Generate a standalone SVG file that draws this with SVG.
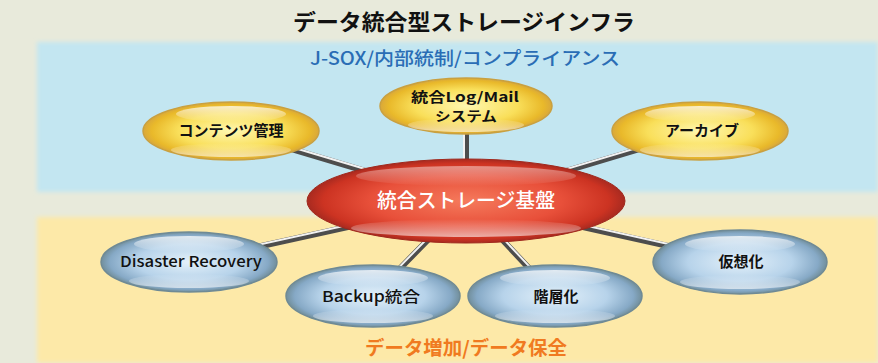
<svg xmlns="http://www.w3.org/2000/svg" width="878" height="363" viewBox="0 0 878 363">
<defs>
  <radialGradient id="gY" cx="50%" cy="50%" r="50%">
    <stop offset="0" stop-color="#fff7b0"/>
    <stop offset="0.6" stop-color="#f9df5a"/>
    <stop offset="0.9" stop-color="#e9b92a"/>
    <stop offset="1" stop-color="#d9a83a"/>
  </radialGradient>
  <radialGradient id="gB" cx="50%" cy="50%" r="50%">
    <stop offset="0" stop-color="#e4f1fa"/>
    <stop offset="0.6" stop-color="#b7d3ea"/>
    <stop offset="0.9" stop-color="#86a9c6"/>
    <stop offset="1" stop-color="#728f9c"/>
  </radialGradient>
  <radialGradient id="gR" cx="50%" cy="50%" r="50%">
    <stop offset="0" stop-color="#f57a5c"/>
    <stop offset="0.6" stop-color="#e8503a"/>
    <stop offset="0.9" stop-color="#cc3322"/>
    <stop offset="1" stop-color="#a82a20"/>
  </radialGradient>
  <linearGradient id="hl" x1="0" y1="0" x2="0" y2="1">
    <stop offset="0" stop-color="#ffffff" stop-opacity="0.75"/>
    <stop offset="1" stop-color="#ffffff" stop-opacity="0"/>
  </linearGradient>
  <linearGradient id="hlb" x1="0" y1="1" x2="0" y2="0">
    <stop offset="0" stop-color="#ffffff" stop-opacity="0.6"/>
    <stop offset="1" stop-color="#ffffff" stop-opacity="0"/>
  </linearGradient>
  <filter id="soft" x="-5%" y="-10%" width="110%" height="120%"><feGaussianBlur stdDeviation="2"/></filter>
</defs>
<style>
  .t{font-family:"Noto Sans CJK JP","Noto Sans",sans-serif;font-weight:bold;text-anchor:middle}
  .n{font-size:15px;fill:#111}
  .r{font-weight:500}
  .ty{stroke:#c9a040;stroke-width:1.5}
  .tb{stroke:#6f8a95;stroke-width:1.5}
  .tube1{stroke:#4d4d4d;stroke-width:6;fill:none}
  .tube2{stroke:#f2f2f2;stroke-width:2;fill:none}
</style>
<rect width="878" height="363" fill="#e8eadb"/>
<rect x="37" y="42" width="841" height="150" fill="#c3e6f1" filter="url(#soft)"/>
<rect x="37" y="217" width="841" height="146" fill="#fde9a8" filter="url(#soft)"/>

<text class="t" x="464" y="30" font-size="22" fill="#111" textLength="342" lengthAdjust="spacingAndGlyphs">データ統合型ストレージインフラ</text>
<text class="t r" x="465" y="65" font-size="18" fill="#2a6db5" textLength="310" lengthAdjust="spacingAndGlyphs">J-SOX/内部統制/コンプライアンス</text>
<text class="t" x="466" y="355" font-size="19" fill="#f07a20" textLength="202" lengthAdjust="spacingAndGlyphs">データ増加/データ保全</text>

<g id="connectors">
  <path class="tube1" d="M466 201L231 131M466 201L466 106M466 201L700 131M466 201L189 262M466 201L373 296M466 201L555 296M466 201L740 262"/>
  <path class="tube2" d="M466 199L231 129M464 201L464 106M466 199L700 129M466 199L189 260M464 201L371 296M468 201L557 296M466 199L740 260"/>
</g>

<g id="n-content">
  <ellipse cx="231" cy="131" rx="88" ry="29" fill="url(#gY)" class="ty"/>
  <ellipse cx="231" cy="114" rx="55" ry="8" fill="url(#hl)"/>
  <ellipse cx="231" cy="150" rx="60" ry="7" fill="url(#hlb)"/>
  <text class="t n" x="231" y="136">コンテンツ管理</text>
</g>
<g id="n-logmail">
  <ellipse cx="466" cy="106" rx="86" ry="28" fill="url(#gY)" class="ty"/>
  <ellipse cx="466" cy="125" rx="58" ry="7" fill="url(#hlb)"/>
  <text class="t n" x="465" y="102" style="font-size:13.5px" textLength="108" lengthAdjust="spacingAndGlyphs">統合Log/Mail</text>
  <text class="t n" x="466" y="121" style="font-size:13.5px" textLength="62" lengthAdjust="spacingAndGlyphs">システム</text>
</g>
<g id="n-archive">
  <ellipse cx="700" cy="131" rx="88" ry="29" fill="url(#gY)" class="ty"/>
  <ellipse cx="700" cy="114" rx="55" ry="8" fill="url(#hl)"/>
  <ellipse cx="700" cy="150" rx="60" ry="7" fill="url(#hlb)"/>
  <text class="t n" x="702" y="136">アーカイブ</text>
</g>
<g id="n-center">
  <ellipse cx="466" cy="201" rx="159" ry="42" fill="url(#gR)" stroke="#a0281c" stroke-width="1"/>
  <ellipse cx="466" cy="176" rx="110" ry="10" fill="url(#hl)" opacity="0.6"/>
  <ellipse cx="466" cy="228" rx="115" ry="9" fill="url(#hlb)"/>
  <text class="t r" x="466" y="208" font-size="20" fill="#ffffff" textLength="178" lengthAdjust="spacingAndGlyphs">統合ストレージ基盤</text>
</g>
<g id="n-dr">
  <ellipse cx="189" cy="262" rx="88" ry="30" fill="url(#gB)" class="tb"/>
  <ellipse cx="189" cy="244" rx="55" ry="8" fill="url(#hl)"/>
  <ellipse cx="189" cy="281" rx="60" ry="7" fill="url(#hlb)"/>
  <text class="t n r" x="191" y="267" textLength="142" lengthAdjust="spacingAndGlyphs">Disaster Recovery</text>
</g>
<g id="n-backup">
  <ellipse cx="373" cy="296" rx="87" ry="31" fill="url(#gB)" class="tb"/>
  <ellipse cx="373" cy="278" rx="55" ry="8" fill="url(#hl)"/>
  <ellipse cx="373" cy="316" rx="60" ry="7" fill="url(#hlb)"/>
  <text class="t n r" x="371" y="302" textLength="98" lengthAdjust="spacingAndGlyphs">Backup統合</text>
</g>
<g id="n-tier">
  <ellipse cx="555" cy="296" rx="87" ry="31" fill="url(#gB)" class="tb"/>
  <ellipse cx="555" cy="278" rx="55" ry="8" fill="url(#hl)"/>
  <ellipse cx="555" cy="316" rx="60" ry="7" fill="url(#hlb)"/>
  <text class="t n" x="556" y="302">階層化</text>
</g>
<g id="n-virt">
  <ellipse cx="740" cy="262" rx="87" ry="32" fill="url(#gB)" class="tb"/>
  <ellipse cx="740" cy="244" rx="55" ry="8" fill="url(#hl)"/>
  <ellipse cx="740" cy="282" rx="60" ry="7" fill="url(#hlb)"/>
  <text class="t n" x="741" y="267">仮想化</text>
</g>
</svg>
